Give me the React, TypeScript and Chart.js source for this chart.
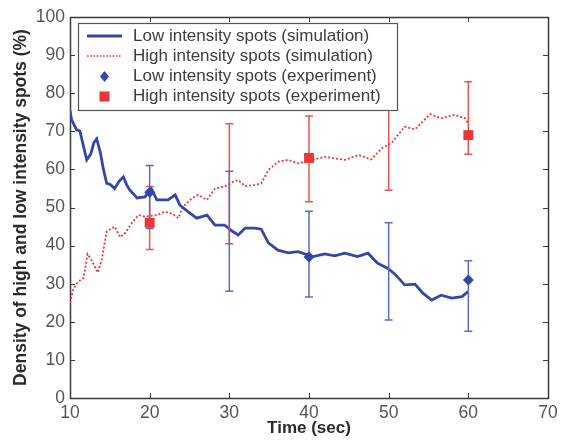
import React, { useEffect, useRef } from "react";
import { Chart, registerables } from "chart.js";

Chart.register(...registerables);

// ---- data ----
const lowSimTime = [10.0, 10.2, 10.8, 11.25, 11.7, 12.1, 12.6, 13.0, 13.35, 13.8, 14.2, 14.6, 15.1, 15.6, 16.2, 16.7, 17.1, 17.5, 18.0, 18.4, 19.4, 20.2, 20.9, 22.3, 23.2, 23.8, 24.8, 25.9, 27.2, 28.2, 29.4, 30.3, 31.1, 32.0, 33.2, 34.0, 34.9, 36.1, 37.4, 38.6, 40.5, 42.0, 43.2, 44.5, 46.1, 47.4, 48.6, 49.9, 50.8, 52.0, 53.3, 54.3, 55.4, 56.6, 57.9, 59.2, 60.0];
const lowSimValues = [75.5, 73, 70.5, 70, 66, 62.5, 64, 67, 68, 64.5, 60, 56.4, 56, 55, 57, 58, 56, 54.6, 53.5, 52.5, 52.8, 55, 52, 52, 53.3, 50.6, 48.9, 47.2, 48, 45.4, 45.4, 43.9, 42.8, 44.6, 44.6, 44.3, 40.7, 38.8, 38.1, 38.4, 37.1, 37.8, 37.3, 38.0, 37.1, 38.0, 35.4, 34, 32.5, 29.7, 29.9, 27.5, 25.7, 27, 26.2, 26.6, 28];
const highSimTime = [10.0, 10.4, 11.0, 11.7, 12.2, 12.7, 13.5, 14.0, 14.6, 15.6, 16.3, 17.0, 17.7, 18.6, 19.4, 20.9, 21.9, 22.8, 23.6, 24.2, 25.3, 26.1, 27.2, 28.2, 29.4, 30.5, 31.1, 32.0, 33.2, 34.0, 34.9, 36.1, 37.4, 38.6, 40.5, 42.0, 43.2, 44.5, 46.2, 47.8, 49.1, 50.4, 50.8, 52.0, 53.3, 55.2, 56.6, 58.3, 59.6, 60.0];
const highSimValues = [25, 28.5, 30.5, 31.5, 37.8, 36.2, 32.9, 36.5, 43.7, 45.0, 42.2, 43.5, 45.8, 48, 47.6, 48, 48.9, 48.4, 47.2, 50.2, 52.4, 53.3, 52, 55, 55.5, 56.8, 57.2, 55.6, 55.9, 56.3, 59.8, 62, 62.5, 61.6, 62.5, 63.3, 62.9, 62.5, 63.8, 62.6, 65.5, 67, 68.1, 71.2, 70.5, 74.5, 73.4, 74.3, 73.4, 72];

const expTime = [20, 30, 40, 50, 60];
const lowExpMean: (number | null)[] = [54, null, 37, null, 31];
const lowExpLow = [44.5, 28, 26.5, 20.5, 17.5];
const lowExpHigh = [61, 59.5, 49, 46, 36];
const highExpMean: (number | null)[] = [46, null, 63, null, 69];
const highExpLow = [39, 40.5, 51.5, 54.5, 64];
const highExpHigh = [55.5, 72, 74, 80, 83];

const xTicks = [10, 20, 30, 40, 50, 60, 70];
const yTicks = [0, 10, 20, 30, 40, 50, 60, 70, 80, 90, 100];

const legendLabels = [
  "Low intensity spots (simulation)",
  "High intensity spots (simulation)",
  "Low intensity spots (experiment)",
  "High intensity spots (experiment)",
];
const xTitle = "Time (sec)";
const yTitle = "Density of high and low intensity spots (%)";

// ---- styles ----
const FONT = "'Liberation Sans', Arial, Helvetica, sans-serif";
const BLUE = "#3446a8";
const RED = "#ee3535";
const BLUE_ERR = "#5c6cc0";
const RED_ERR = "#f05050";

const framePlugin = {
  id: "frameTicks",
  beforeDatasetsDraw(chart: any) {
    const { ctx, chartArea } = chart;
    const { left, right, top, bottom } = chartArea;
    const xs = chart.scales.x;
    const ys = chart.scales.y;
    ctx.save();
    ctx.strokeStyle = "#3a3a3a";
    ctx.lineWidth = 1;
    ctx.beginPath();
    const tl = 5;
    xTicks.forEach((v) => {
      const px = Math.round(xs.getPixelForValue(v)) + 0.5;
      ctx.moveTo(px, bottom);
      ctx.lineTo(px, bottom - tl);
      ctx.moveTo(px, top);
      ctx.lineTo(px, top + tl);
    });
    yTicks.forEach((v) => {
      const py = Math.round(ys.getPixelForValue(v)) + 0.5;
      ctx.moveTo(left, py);
      ctx.lineTo(left + tl, py);
      ctx.moveTo(right, py);
      ctx.lineTo(right - tl, py);
    });
    ctx.stroke();
    ctx.lineWidth = 1.5;
    ctx.strokeRect(Math.round(left) + 0.5, Math.round(top) + 0.5, Math.round(right - left), Math.round(bottom - top));
    ctx.restore();
  },
};

function drawBars(chart: any, lows: number[], highs: number[], color: string) {
  const { ctx } = chart;
  const xs = chart.scales.x;
  const ys = chart.scales.y;
  ctx.save();
  ctx.strokeStyle = color;
  ctx.lineWidth = 1.5;
  ctx.beginPath();
  expTime.forEach((t, i) => {
    const px = xs.getPixelForValue(t);
    const pl = ys.getPixelForValue(lows[i]);
    const ph = ys.getPixelForValue(highs[i]);
    ctx.moveTo(px, pl);
    ctx.lineTo(px, ph);
    ctx.moveTo(px - 4, pl);
    ctx.lineTo(px + 4, pl);
    ctx.moveTo(px - 4, ph);
    ctx.lineTo(px + 4, ph);
  });
  ctx.stroke();
  ctx.restore();
}

const errorBarPlugin = {
  id: "errorBars",
  afterDatasetDraw(chart: any, args: any) {
    if (args.index === 2) {
      drawBars(chart, highExpLow, highExpHigh, RED_ERR);
      drawBars(chart, lowExpLow, lowExpHigh, BLUE_ERR);
    }
  },
};

const legendPlugin = {
  id: "boxLegend",
  afterDraw(chart: any) {
    const { ctx } = chart;
    const bx = 78, by = 23, bw = 319, bh = 87;
    ctx.save();
    ctx.fillStyle = "#ffffff";
    ctx.fillRect(bx, by, bw, bh);
    ctx.strokeStyle = "#555555";
    ctx.lineWidth = 1.2;
    ctx.strokeRect(bx + 0.5, by + 0.5, bw, bh);
    ctx.font = `17px ${FONT}`;
    ctx.textBaseline = "middle";
    ctx.textAlign = "left";
    const rows = [36, 56, 76.5, 96.5];
    rows.forEach((ry, i) => {
      ctx.fillStyle = "#3c3c3c";
      ctx.fillText(legendLabels[i], 133, ry);
      if (i === 0) {
        ctx.strokeStyle = BLUE;
        ctx.lineWidth = 3;
        ctx.setLineDash([]);
        ctx.beginPath();
        ctx.moveTo(87, ry);
        ctx.lineTo(122, ry);
        ctx.stroke();
      } else if (i === 1) {
        ctx.strokeStyle = RED;
        ctx.lineWidth = 1.6;
        ctx.setLineDash([1.6, 1.6]);
        ctx.beginPath();
        ctx.moveTo(87, ry);
        ctx.lineTo(122, ry);
        ctx.stroke();
        ctx.setLineDash([]);
      } else if (i === 2) {
        ctx.fillStyle = BLUE;
        ctx.beginPath();
        ctx.moveTo(104.5, ry - 5.5);
        ctx.lineTo(109, ry);
        ctx.lineTo(104.5, ry + 5.5);
        ctx.lineTo(100, ry);
        ctx.closePath();
        ctx.fill();
      } else {
        ctx.fillStyle = RED;
        ctx.fillRect(99.5, ry - 5, 10, 10);
      }
    });
    ctx.restore();
  },
};

export default function App() {
  const canvasRef = useRef<HTMLCanvasElement | null>(null);

  useEffect(() => {
    if (!canvasRef.current) return;
    const lowPts = expTime
      .map((t, i) => ({ x: t, y: lowExpMean[i] }))
      .filter((p) => p.y !== null);
    const highPts = expTime
      .map((t, i) => ({ x: t, y: highExpMean[i] }))
      .filter((p) => p.y !== null);
    const chart = new Chart(canvasRef.current, {
      type: "line",
      data: {
        datasets: [
          {
            label: legendLabels[2],
            data: lowPts as any,
            showLine: false,
            pointStyle: "rectRot",
            pointRadius: 5.5,
            pointBackgroundColor: BLUE,
            pointBorderColor: BLUE,
            pointBorderWidth: 0,
          },
          {
            label: legendLabels[3],
            data: highPts as any,
            showLine: false,
            pointStyle: "rect",
            pointRadius: 7,
            pointBackgroundColor: RED,
            pointBorderColor: RED,
            pointBorderWidth: 0,
          },
          {
            label: legendLabels[0],
            data: lowSimTime.map((t, i) => ({ x: t, y: lowSimValues[i] })),
            borderColor: BLUE,
            borderWidth: 2.8,
            pointRadius: 0,
            tension: 0,
          },
          {
            label: legendLabels[1],
            data: highSimTime.map((t, i) => ({ x: t, y: highSimValues[i] })),
            borderColor: RED,
            borderWidth: 1.8,
            borderDash: [2, 2],
            pointRadius: 0,
            tension: 0,
          },
        ],
      },
      options: {
        responsive: false,
        animation: false,
        layout: { padding: { top: 17, right: 23, left: 0, bottom: 0 } },
        plugins: {
          legend: { display: false },
          tooltip: { enabled: false },
        },
        scales: {
          x: {
            type: "linear",
            min: 10,
            max: 70,
            afterBuildTicks: (s: any) => {
              s.ticks = xTicks.map((v) => ({ value: v }));
            },
            afterFit: (s: any) => {
              s.height = 44;
            },
            ticks: {
              color: "#555555",
              font: { size: 17.5, family: FONT },
              padding: 5,
              maxRotation: 0,
              autoSkip: false,
            },
            grid: { display: false, drawTicks: false },
            border: { display: false },
            title: {
              display: true,
              text: xTitle,
              color: "#2a2a2a",
              font: { size: 17, weight: "bold", family: FONT },
              padding: { top: 0, bottom: 3 },
            },
          },
          y: {
            type: "linear",
            min: 0,
            max: 100,
            afterBuildTicks: (s: any) => {
              s.ticks = yTicks.map((v) => ({ value: v }));
            },
            afterFit: (s: any) => {
              s.width = 70;
            },
            ticks: {
              color: "#555555",
              font: { size: 17.5, family: FONT },
              padding: 5,
              autoSkip: false,
            },
            grid: { display: false, drawTicks: false },
            border: { display: false },
            title: {
              display: true,
              text: yTitle,
              color: "#2a2a2a",
              font: { size: 17.5, weight: "bold", family: FONT },
              padding: { top: 11, bottom: 0 },
            },
          },
        },
      },
      plugins: [framePlugin, errorBarPlugin, legendPlugin],
    });
    return () => chart.destroy();
  }, []);

  return (
    <div style={{ position: "fixed", left: 0, top: 0, width: 571, height: 442, background: "#ffffff" }}>
      <canvas ref={canvasRef} width={571} height={442} style={{ display: "block" }} />
    </div>
  );
}
